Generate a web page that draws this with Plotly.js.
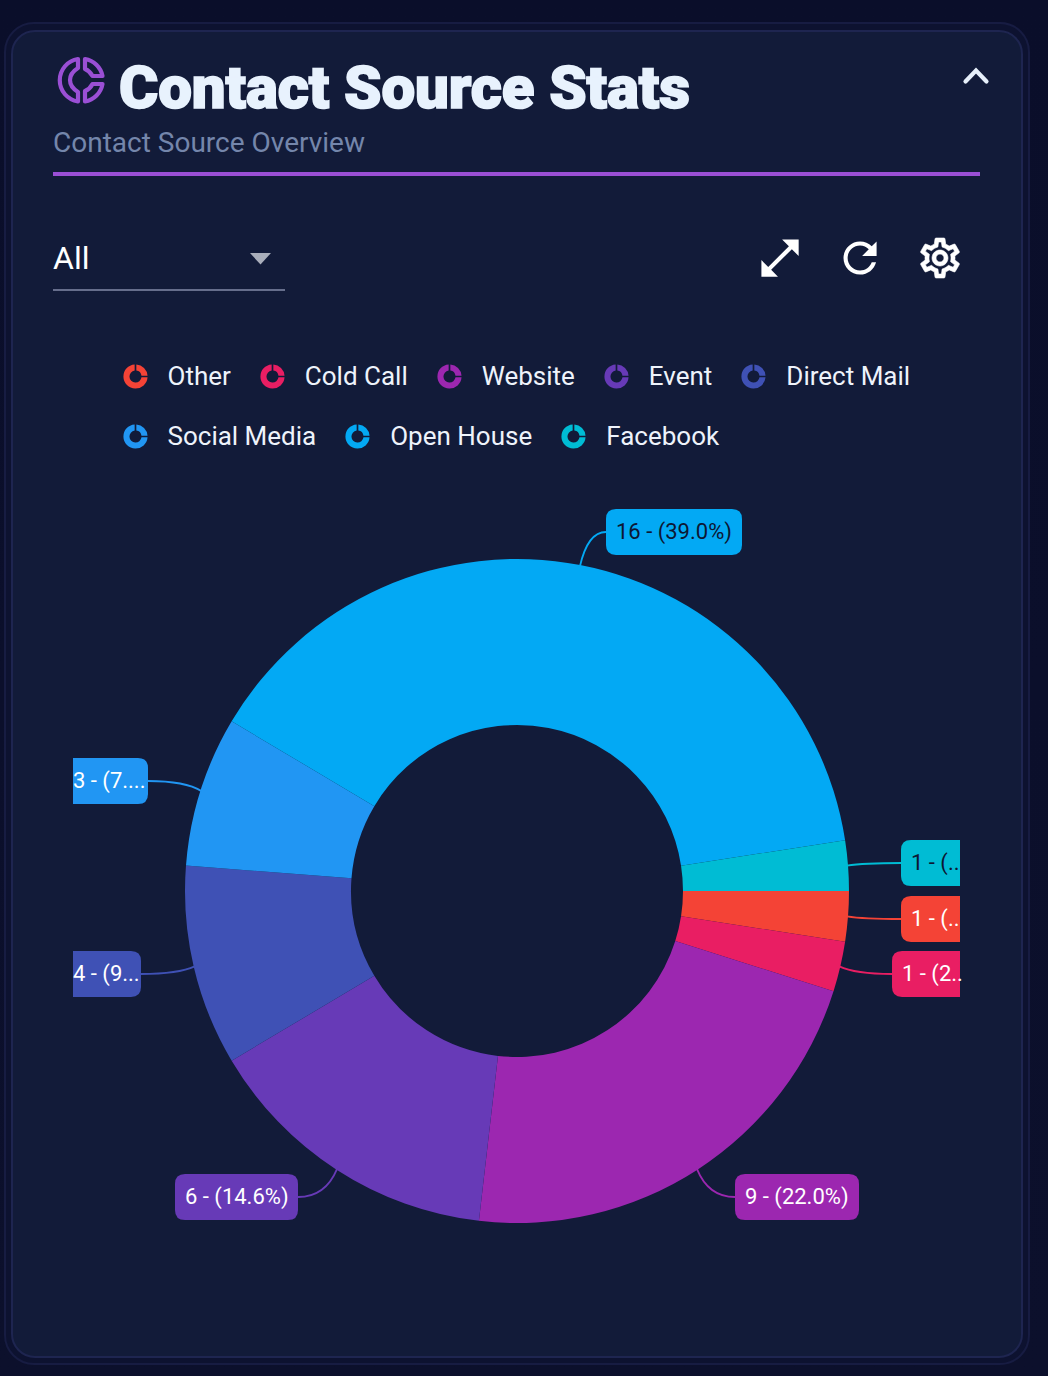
<!DOCTYPE html>
<html>
<head>
<meta charset="utf-8">
<script src="https://cdn.plot.ly/plotly-3.0.1.min.js"></script>
<style>
html,body{margin:0;padding:0;width:1048px;height:1376px;overflow:hidden;background:#0b0f2b;font-family:Roboto,sans-serif}
#page{position:absolute;left:0;top:0;width:1048px;height:1376px;background:linear-gradient(180deg,#0a0e2a 0,#0c102c 100%)}
#outer{position:absolute;left:4px;top:22px;width:1022px;height:1339px;border:2px solid #171c42;border-radius:30px;background:#0d1230}
#card{position:absolute;left:11px;top:30px;width:1008px;height:1324px;border:2px solid #1e2550;border-radius:24px;background:#121b39}
.t{position:absolute;white-space:nowrap}
#title{left:119px;top:53px;font-size:60px;line-height:70px;font-weight:900;color:#e8f2fd;-webkit-text-stroke:1.6px #e8f2fd;letter-spacing:-0.15px}
#sub{left:53px;top:126px;font-size:28px;line-height:34px;color:#7486ab}
#rule{position:absolute;left:53px;top:172px;width:927px;height:4px;background:#9a4fd5}
#all{left:53px;top:239px;font-size:32px;line-height:38px;color:#fff}
#uline{position:absolute;left:53px;top:289px;width:232px;height:2px;background:#666e8c}
#legend{position:absolute;left:123px;top:346px;width:840px;display:flex;flex-wrap:wrap}
.li{display:flex;align-items:center;height:60px;margin-right:29.5px;font-size:26px;color:#eef3fb}
.li svg{width:29px;height:29px;margin-left:-2.5px;margin-right:18px;flex:none}
svg.abs{position:absolute;overflow:visible}
#plot{position:absolute;left:0;top:0;width:1048px;height:1376px}
</style>
</head>
<body>
<div id="page">
  <div id="outer"></div>
  <div id="card"></div>
  <svg class="abs" style="left:0;top:0" width="1048" height="300">
    <g fill="none" stroke="#9a4fd5" stroke-width="4.2" stroke-linejoin="round">
      <path d="M78 59 A21.5 21.5 0 0 0 78 101.5 V92 Q70 87 70 80 Q70 73 78 68 Z"/>
      <path d="M85 59 A21.5 21.5 0 0 1 102.5 76 H92.5 Q90 71 85 69 Z"/>
      <path d="M85 101.5 A21.5 21.5 0 0 0 102.5 84 H92.5 Q90 89 85 91 Z"/>
    </g>
    <path d="M965.5 81.5 L976 70.5 L986.5 81.5" fill="none" stroke="#e6effa" stroke-width="4.2" stroke-linecap="round" stroke-linejoin="miter"/>
    <path d="M250 253 H271 L260.5 264.5 Z" fill="#a9aebb"/>
    <g fill="#fff">
      <path transform="translate(755.2 233.2) scale(2.07)" d="M21 11V3h-8l3.29 3.29-10 10L3 13v8h8l-3.29-3.29 10-10z"/>
      <path transform="translate(835.2 233.2) scale(2.07)" d="M17.65 6.35C16.2 4.9 14.21 4 12 4c-4.42 0-7.99 3.58-7.99 8s3.57 8 7.99 8c3.73 0 6.84-2.55 7.73-6h-2.08c-.82 2.33-3.04 4-5.65 4-3.31 0-6-2.69-6-6s2.69-6 6-6c1.66 0 3.14.69 4.22 1.78L13 11h7V4l-2.35 2.35z"/>
      <path transform="translate(916 234) scale(2)" stroke="#fff" stroke-width="0.3" d="M19.43 12.98c.04-.32.07-.64.07-.98 0-.34-.03-.66-.07-.98l2.11-1.65c.19-.15.24-.42.12-.64l-2-3.46c-.09-.16-.26-.25-.44-.25-.06 0-.12.01-.17.03l-2.49 1c-.52-.4-1.08-.73-1.69-.98l-.38-2.65C14.46 2.18 14.25 2 14 2h-4c-.25 0-.46.18-.49.42l-.38 2.65c-.61.25-1.17.59-1.69.98l-2.49-1c-.06-.02-.12-.03-.18-.03-.17 0-.34.09-.43.25l-2 3.46c-.13.22-.07.49.12.64l2.11 1.65c-.04.32-.07.65-.07.98 0 .33.03.66.07.98l-2.11 1.65c-.19.15-.24.42-.12.64l2 3.46c.09.16.26.25.44.25.06 0 .12-.01.17-.03l2.49-1c.52.4 1.08.73 1.69.98l.38 2.65c.03.24.24.42.49.42h4c.25 0 .46-.18.49-.42l.38-2.65c.61-.25 1.17-.59 1.69-.98l2.49 1c.06.02.12.03.18.03.17 0 .34-.09.43-.25l2-3.46c.12-.22.07-.49-.12-.64l-2.11-1.65zm-1.98-1.71c.04.31.05.52.05.73 0 .21-.02.43-.05.73l-.14 1.13.89.7 1.08.84-.7 1.21-1.27-.51-1.04-.42-.9.68c-.43.32-.84.56-1.25.73l-1.06.43-.16 1.13-.2 1.35h-1.4l-.19-1.35-.16-1.13-1.06-.43c-.43-.18-.83-.41-1.23-.71l-.91-.7-1.06.43-1.27.51-.7-1.21 1.08-.84.89-.7-.14-1.13c-.03-.31-.05-.54-.05-.74s.02-.43.05-.73l.14-1.13-.89-.7-1.08-.84.7-1.21 1.27.51 1.04.42.9-.68c.43-.32.84-.56 1.25-.73l1.06-.43.16-1.13.2-1.35h1.39l.19 1.35.16 1.13 1.06.43c.43.18.83.41 1.23.71l.91.7 1.06-.43 1.27-.51.7 1.21-1.07.85-.89.7.14 1.13zM12 8c-2.21 0-4 1.79-4 4s1.79 4 4 4 4-1.79 4-4-1.79-4-4-4zm0 6c-1.1 0-2-.9-2-2s.9-2 2-2 2 .9 2 2-.9 2-2 2z"/>
    </g>
  </svg>
  <div class="t" id="title">Contact Source Stats</div>
  <div class="t" id="sub">Contact Source Overview</div>
  <div id="rule"></div>
  <div class="t" id="all">All</div>
  <div id="uline"></div>
  <div id="legend"></div>
  <div id="plot"></div>
</div>
<script>
// ---- data ----
const sources = ['Other','Cold Call','Website','Event','Direct Mail','Social Media','Open House','Facebook'];
const counts  = [1,1,9,6,4,3,16,1];
const colors  = ['#f44336','#e91e63','#9c27b0','#673ab7','#3f51b5','#2196f3','#03a9f4','#00bcd4'];
const calloutTexts = ['1 - (..','1 - (2..','9 - (22.0%)','6 - (14.6%)','4 - (9...','3 - (7....','16 - (39.0%)','1 - (..'];
const calloutInk   = ['#fff','#fff','#fff','#fff','#fff','#fff','#0d1733','#0d1733'];

// ---- geometry (page pixels) ----
const W = 1048, H = 1376, CX = 517, CY = 891, R = 332;
const boxes = [
  {l:901,r:960,y:919},{l:892,r:960,y:974},{l:735,r:859,y:1197},{l:175,r:298,y:1197},
  {l:73,r:141,y:974},{l:73,r:148,y:781},{l:606,r:742,y:532},{l:901,r:960,y:863}
];
const BOX_H = 46, RAD = 10, CLIP_L = 73, CLIP_R = 960;
const px = x => x / W, py = y => 1 - y / H;
const P = (x, y) => px(x).toFixed(5) + ' ' + py(y).toFixed(5);

function roundedBox(b) {
  const t = b.y - BOX_H/2, bt = b.y + BOX_H/2;
  const rl = b.l === CLIP_L ? 0 : RAD, rr = b.r === CLIP_R ? 0 : RAD;
  return 'M ' + P(b.l + rl, t) + ' L ' + P(b.r - rr, t) +
    ' Q ' + P(b.r, t) + ' ' + P(b.r, t + rr) +
    ' L ' + P(b.r, bt - rr) + ' Q ' + P(b.r, bt) + ' ' + P(b.r - rr, bt) +
    ' L ' + P(b.l + rl, bt) + ' Q ' + P(b.l, bt) + ' ' + P(b.l, bt - rl) +
    ' L ' + P(b.l, t + rl) + ' Q ' + P(b.l, t) + ' ' + P(b.l + rl, t) + ' Z';
}

const total = counts.reduce((a, b) => a + b, 0);
let cum = 0;
const shapes = [], annotations = [];
counts.forEach((v, i) => {
  const mid = (cum + v / 2) / total * 2 * Math.PI; cum += v;
  const sx = CX + (R - 1) * Math.cos(mid), sy = CY + (R - 1) * Math.sin(mid);
  const b = boxes[i];
  const right = sx > CX;
  const ex = right ? b.l : b.r;
  const cx = sx + (ex - sx) * 0.3;
  shapes.push({type:'path', xref:'paper', yref:'paper', layer:'above',
    path:'M ' + P(sx, sy) + ' Q ' + P(cx, b.y) + ' ' + P(ex, b.y),
    line:{color:colors[i], width:1.8}, fillcolor:'rgba(0,0,0,0)'});
  shapes.push({type:'path', xref:'paper', yref:'paper', layer:'above',
    path:roundedBox(b), line:{width:0}, fillcolor:colors[i]});
  annotations.push({xref:'paper', yref:'paper', x:px(b.l === CLIP_L ? b.l : b.l + 10), y:py(b.y),
    xanchor:'left', yanchor:'middle', showarrow:false, text:calloutTexts[i],
    font:{family:'Roboto, sans-serif', size:22, color:calloutInk[i]}, borderpad:0, borderwidth:0});
});

Plotly.newPlot('plot', [{
  type:'pie', labels:sources, values:counts, sort:false, direction:'clockwise', rotation:90,
  hole:0.5, textinfo:'none', hoverinfo:'none', showlegend:false,
  marker:{colors:colors, line:{width:0}},
  domain:{x:[px(CX - R), px(CX + R)], y:[py(CY + R), py(CY - R)]}
}], {
  width:W, height:H, margin:{l:0,r:0,t:0,b:0,pad:0},
  paper_bgcolor:'rgba(0,0,0,0)', plot_bgcolor:'rgba(0,0,0,0)',
  showlegend:false, shapes:shapes, annotations:annotations
}, {displayModeBar:false, staticPlot:true});

// ---- legend ----
const donut = 'M11.3 2.03A10 10 0 1 0 21.97 12.7H16.95A5 5 0 1 1 11.3 7.05ZM12.7 2.03A10 10 0 0 1 21.97 11.3H16.95A5 5 0 0 0 12.7 7.05Z';
const legend = document.getElementById('legend');
sources.forEach((s, i) => {
  const el = document.createElement('div');
  el.className = 'li';
  el.innerHTML = '<svg viewBox="0 0 24 24"><path fill="' + colors[i] + '" d="' + donut + '"/></svg><span>' + s + '</span>';
  legend.appendChild(el);
});
</script>
</body>
</html>
